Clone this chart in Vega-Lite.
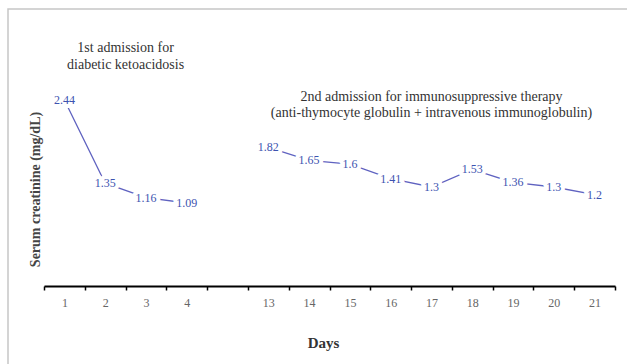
{
  "$schema": "https://vega.github.io/schema/vega-lite/v6.json",
  "width": 625,
  "height": 360,
  "autosize": {"type": "none"},
  "padding": {"left": 8, "top": 9, "right": 0, "bottom": 0},
  "background": "white",
  "config": {"view": {"stroke": "#c6c6c6", "strokeWidth": 1.5}, "font": "Liberation Serif"},
  "datasets": {
    "creat": [
      {"day": "1", "value": 2.44, "seg": "a"},
      {"day": "2", "value": 1.35, "seg": "a"},
      {"day": "3", "value": 1.16, "seg": "a"},
      {"day": "4", "value": 1.09, "seg": "a"},
      {"day": "13", "value": 1.82, "seg": "b"},
      {"day": "14", "value": 1.65, "seg": "b"},
      {"day": "15", "value": 1.6, "seg": "b"},
      {"day": "16", "value": 1.41, "seg": "b"},
      {"day": "17", "value": 1.3, "seg": "b"},
      {"day": "18", "value": 1.53, "seg": "b"},
      {"day": "19", "value": 1.36, "seg": "b"},
      {"day": "20", "value": 1.3, "seg": "b"},
      {"day": "21", "value": 1.2, "seg": "b"}
    ],
    "notes1": [
      {"day": "2", "value": 3.118, "label": "1st admission for"},
      {"day": "2", "value": 2.899, "label": "diabetic ketoacidosis"}
    ],
    "notes2": [
      {"day": "17", "value": 2.483, "label": "2nd admission for immunosuppressive therapy"},
      {"day": "17", "value": 2.27, "label": "(anti-thymocyte globulin + intravenous immunoglobulin)"}
    ]
  },
  "encoding": {
    "x": {
      "field": "day",
      "type": "ordinal",
      "sort": null,
      "scale": {
        "type": "band",
        "domain": ["1", "2", "3", "4", "gap", "13", "14", "15", "16", "17", "18", "19", "20", "21"],
        "range": [36, 607],
        "paddingInner": 0,
        "paddingOuter": 0
      },
      "axis": {
        "title": "Days",
        "offset": -83,
        "tickBand": "extent",
        "grid": false,
        "domainColor": "#000000",
        "domainWidth": 2,
        "tickColor": "#000000",
        "tickWidth": 1.5,
        "tickSize": 4,
        "labelAngle": 0,
        "labelExpr": "datum.value == 'gap' ? '' : datum.value",
        "labelFont": "Liberation Serif",
        "labelFontSize": 12,
        "labelColor": "#666666",
        "labelPadding": 7,
        "titleFont": "Liberation Serif",
        "titleFontSize": 15,
        "titleFontWeight": "bold",
        "titleColor": "#333333",
        "titleX": 315,
        "titleY": 56,
        "titleBaseline": "middle",
        "titleAlign": "center"
      }
    },
    "y": {
      "field": "value",
      "type": "quantitative",
      "scale": {"domain": [0, 3.2], "range": [277.2, 33], "nice": false, "zero": false},
      "axis": {
        "domain": false,
        "ticks": false,
        "labels": false,
        "grid": false,
        "title": "Serum creatinine (mg/dL)",
        "titleX": 27,
        "titleY": 180,
        "titleAngle": -90,
        "titleAlign": "center",
        "titleBaseline": "middle",
        "titleFont": "Liberation Serif",
        "titleFontSize": 14,
        "titleFontWeight": "bold",
        "titleColor": "#444444"
      }
    }
  },
  "layer": [
    {
      "data": {"name": "creat"},
      "mark": {"type": "line", "color": "#5f62c0", "strokeWidth": 1.3},
      "encoding": {"detail": {"field": "seg"}}
    },
    {
      "data": {"name": "creat"},
      "mark": {"type": "text", "font": "Liberation Serif", "fontSize": 12, "stroke": "white", "strokeWidth": 8, "strokeJoin": "round", "fill": "white", "align": "center", "baseline": "middle"},
      "encoding": {"text": {"field": "value", "type": "quantitative"}}
    },
    {
      "data": {"name": "creat"},
      "mark": {"type": "text", "font": "Liberation Serif", "fontSize": 12, "color": "#3d53b0", "align": "center", "baseline": "middle"},
      "encoding": {"text": {"field": "value", "type": "quantitative"}}
    },
    {
      "data": {"name": "notes1"},
      "mark": {"type": "text", "font": "Liberation Serif", "fontSize": 14, "color": "#333333", "align": "center", "baseline": "middle"},
      "encoding": {
        "x": {"field": "day", "type": "ordinal", "bandPosition": 1},
        "text": {"field": "label"}
      }
    },
    {
      "data": {"name": "notes2"},
      "mark": {"type": "text", "font": "Liberation Serif", "fontSize": 14, "color": "#333333", "align": "center", "baseline": "middle"},
      "encoding": {"text": {"field": "label"}}
    }
  ]
}
